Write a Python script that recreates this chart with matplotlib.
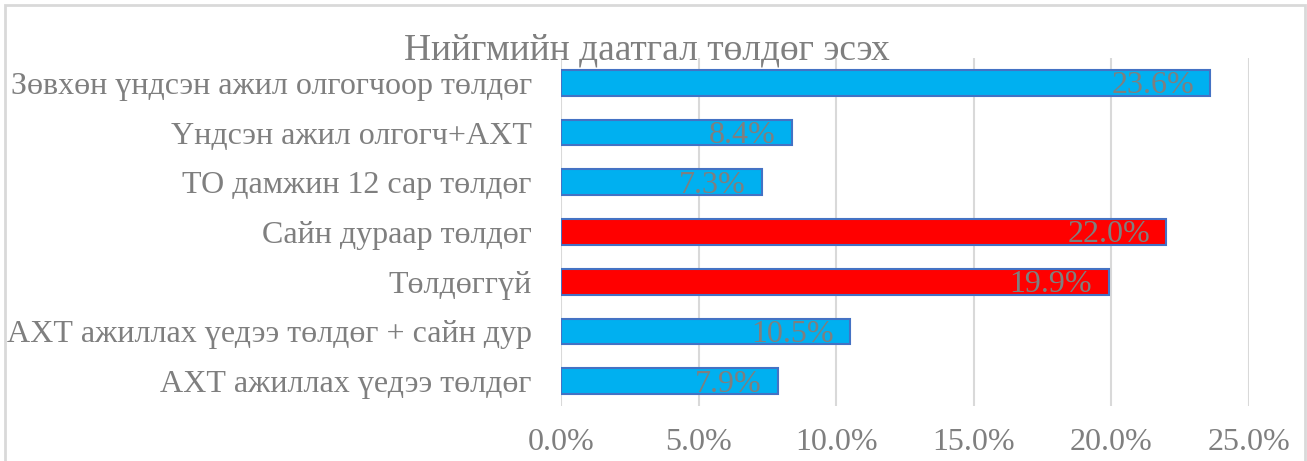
import matplotlib.pyplot as plt
from matplotlib.patches import Rectangle

# categories listed bottom to top
categories = [
    "АХТ ажиллах үедээ төлдөг",
    "АХТ ажиллах үедээ төлдөг + сайн дур",
    "Төлдөггүй",
    "Сайн дураар төлдөг",
    "ТО дамжин 12 сар төлдөг",
    "Үндсэн ажил олгогч+АХТ",
    "Зөвхөн үндсэн ажил олгогчоор төлдөг",
]
values = [7.9, 10.5, 19.9, 22.0, 7.3, 8.4, 23.6]
highlight = [False, False, True, True, False, False, False]
xticks = [0, 5, 10, 15, 20, 25]

gray = "#7f7f7f"
plt.rcParams['font.family'] = ['Liberation Serif', 'DejaVu Serif']

fig = plt.figure(figsize=(13.07, 4.61), dpi=100)
ax = fig.add_axes([561 / 1307, 55 / 461, 688 / 1307, 348 / 461])

colors = ["#ff0000" if h else "#00b0f0" for h in highlight]
ax.barh(range(len(categories)), values, height=0.52, color=colors,
        edgecolor="#4472c4", linewidth=1.5, zorder=3)

# data labels, inside end of each bar
for i, v in enumerate(values):
    ax.text(v - 0.6, i - 0.06, f"{v:.1f}%", ha="right", va="center",
            fontsize=23, color=gray, zorder=4)

ax.set_xlim(0, 25)
ax.set_ylim(-0.5, len(categories) - 0.5)
ax.set_xticks(xticks)
ax.set_xticklabels([f"{t:.1f}%" for t in xticks], fontsize=23, color=gray)
ax.set_yticks(range(len(categories)))
ax.set_yticklabels(categories, fontsize=23, color=gray)
ax.tick_params(length=0, pad=16, axis="x")
ax.tick_params(length=0, pad=21, axis="y")
ax.grid(axis="x", color="#d9d9d9", linewidth=1.5, zorder=0)
for s in ax.spines.values():
    s.set_visible(False)

fig.text(0.495, 0.87, "Нийгмийн даатгал төлдөг эсэх", ha="center",
         va="baseline", fontsize=27, color=gray)

# chart border
fig.patches.append(Rectangle((5 / 1307, -0.1), 1300 / 1307, 1.1 - 5 / 461,
                             transform=fig.transFigure, fill=False,
                             edgecolor="#d9d9d9", linewidth=2))

fig.savefig("out.png", dpi=100)
